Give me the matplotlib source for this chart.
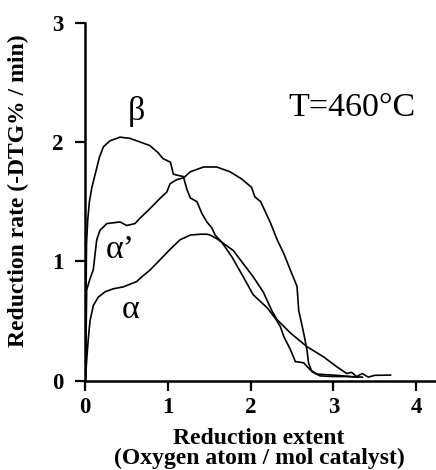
import matplotlib
matplotlib.use("Agg")
import matplotlib.pyplot as plt

# ----------------------------------------------------
# Data
# ----------------------------------------------------
beta_x = [0.0, 0.005, 0.01, 0.015, 0.03, 0.05, 0.08, 0.12, 0.17, 0.22,
          0.30, 0.42, 0.54, 0.66, 0.78, 0.88, 0.94, 1.03, 1.065, 1.12,
          1.185, 1.23, 1.27, 1.35, 1.41, 1.47, 1.53, 1.57, 1.65, 1.77,
          1.91, 2.03, 2.20, 2.30, 2.36, 2.40, 2.48, 2.54, 2.64, 2.72,
          2.80, 2.92, 3.04, 3.20, 3.35]
beta_y = [0.0, 0.3, 0.8, 1.15, 1.35, 1.5, 1.62, 1.73, 1.87, 1.96,
          2.01, 2.04, 2.03, 2.0, 1.97, 1.91, 1.86, 1.83, 1.73, 1.72,
          1.71, 1.60, 1.53, 1.50, 1.40, 1.33, 1.28, 1.22, 1.16, 1.04,
          0.87, 0.72, 0.61, 0.52, 0.45, 0.37, 0.26, 0.16, 0.15, 0.09,
          0.056, 0.05, 0.045, 0.035, 0.03]

alpha_p_x = [0.0, 0.01, 0.017, 0.055, 0.097, 0.138, 0.178, 0.26, 0.42, 0.50,
             0.60, 0.66, 0.78, 0.90, 0.985, 1.025, 1.105, 1.19, 1.27, 1.43,
             1.59, 1.75, 1.89, 2.01, 2.05, 2.12, 2.24, 2.32, 2.40, 2.48,
             2.56, 2.58, 2.64, 2.68, 2.70, 2.74, 2.84, 3.0, 3.16, 3.30]
alpha_p_y = [0.0, 0.4, 0.76, 0.85, 0.93, 1.18, 1.26, 1.316, 1.33, 1.30,
             1.316, 1.36, 1.44, 1.525, 1.58, 1.65, 1.684, 1.70, 1.75, 1.79,
             1.79, 1.75, 1.69, 1.62, 1.54, 1.50, 1.32, 1.18, 1.065, 0.925,
             0.79, 0.59, 0.40, 0.257, 0.145, 0.075, 0.04, 0.035, 0.035, 0.03]

alpha_x = [0.0, 0.01, 0.02, 0.035, 0.057, 0.097, 0.157, 0.24, 0.34, 0.46,
           0.62, 0.70, 0.78, 0.90, 1.025, 1.145, 1.27, 1.39, 1.47, 1.51,
           1.59, 1.67, 1.79, 1.91, 2.03, 2.15, 2.26, 2.32, 2.48, 2.68,
           2.88, 3.04, 3.16, 3.22, 3.28, 3.35, 3.42, 3.5, 3.69]
alpha_y = [0.0, 0.1, 0.2, 0.34, 0.5, 0.63, 0.70, 0.745, 0.77, 0.786,
           0.83, 0.88, 0.925, 1.01, 1.10, 1.18, 1.22, 1.227, 1.227, 1.22,
           1.19, 1.15, 1.09, 0.98, 0.87, 0.745, 0.58, 0.51, 0.40, 0.285,
           0.20, 0.117, 0.06, 0.07, 0.035, 0.06, 0.03, 0.045, 0.047]

x_ticks = [0, 1, 2, 3, 4]
y_ticks = [0, 1, 2, 3]

# ----------------------------------------------------
# Style
# ----------------------------------------------------
plt.rcParams["font.family"] = ["Liberation Serif", "DejaVu Serif"]

fig = plt.figure(figsize=(4.36, 4.70), dpi=100)
ax = fig.add_axes([0.1956, 0.19, 0.8044, 0.762])

# ----------------------------------------------------
# Curves
# ----------------------------------------------------
for xs, ys in [(beta_x, beta_y), (alpha_p_x, alpha_p_y), (alpha_x, alpha_y)]:
    ax.plot(xs, ys, color="black", lw=1.2)

# ----------------------------------------------------
# Axes
# ----------------------------------------------------
ax.set_xlim(0, 4.24)
ax.set_ylim(0, 3)
ax.spines["top"].set_visible(False)
ax.spines["right"].set_visible(False)
ax.spines["left"].set_linewidth(1.8)
ax.spines["bottom"].set_linewidth(1.8)

ax.set_xticks(x_ticks)
ax.set_xticklabels([str(t) for t in x_ticks], fontsize=16.5, fontweight="bold")
ax.set_yticks(y_ticks)
ax.set_yticklabels([str(t) for t in y_ticks], fontsize=16.5, fontweight="bold")
ax.tick_params(axis="both", length=7, width=1.6, direction="out")
ax.tick_params(axis="x", pad=5)
ax.tick_params(axis="y", pad=9)

ax.set_xlabel("Reduction extent\n(Oxygen atom / mol catalyst)",
              fontsize=17, fontweight="bold", linespacing=0.92)
ax.xaxis.set_label_coords(0.495, -0.132)
ax.set_ylabel("Reduction rate (-DTG% / min)",
              fontsize=17, fontweight="bold")
ax.yaxis.set_label_coords(-0.16, 0.53)

# ----------------------------------------------------
# Annotations
# ----------------------------------------------------
ax.text(2.46, 2.22, "T=460°C", fontsize=24.5, ha="left", va="baseline")
ax.text(0.517, 2.18, "β", fontsize=24.5, ha="left", va="baseline")
ax.text(0.25, 1.026, "α’", fontsize=24.5, ha="left", va="baseline")
ax.text(0.445, 0.524, "α", fontsize=24.5, ha="left", va="baseline")

fig.savefig("out.png", dpi=100)
plt.close()
